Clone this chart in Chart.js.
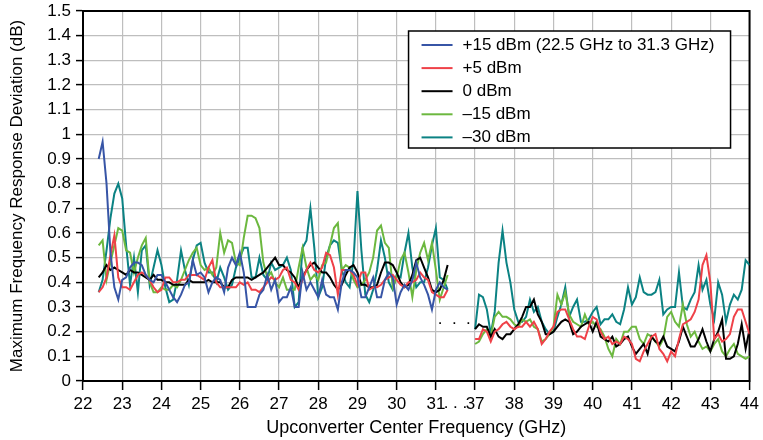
<!DOCTYPE html>
<html>
<head>
<meta charset="utf-8">
<script src="https://cdn.jsdelivr.net/npm/chart.js@4.4.1/dist/chart.umd.min.js"></script>
<style>
  html, body { margin: 0; padding: 0; background: #fff; }
  #wrap { width: 763px; height: 440px; }
</style>
</head>
<body>
<div id="wrap"><canvas id="devChart"></canvas></div>
<script>
// sweep 1: 22.4 .. 31.3 GHz, sweep 2: 37.0 .. 44.0 GHz, 0.1 GHz apart
const lowStart = 22.4;
const highStart = 37.0;
const stepGHz = 0.1;
// 31 -> 37 GHz is squeezed into one tick gap on the axis
const gapShift = 5;

const seriesLabels = ['+15 dBm (22.5 GHz to 31.3 GHz)', '+5 dBm', '0 dBm', '\u201315 dBm', '\u201330 dBm'];
const seriesColors = ['#3755a6', '#ef4148', '#000000', '#6cb83f', '#0b8283'];

// ---- 22.4 .. 31.3 GHz ----
const plus15Low = [
  0.90,0.97,0.80,0.52,0.38,0.33,0.41,0.42,0.46,0.48,
  0.48,0.47,0.43,0.41,0.40,0.43,0.43,0.40,0.37,0.34,
  0.32,0.35,0.39,0.40,0.49,0.43,0.44,0.42,0.36,0.40,
  0.42,0.41,0.36,0.46,0.50,0.47,0.52,0.44,0.30,0.30,
  0.30,0.35,0.37,0.43,0.37,0.41,0.32,0.34,0.34,0.38,
  0.30,0.30,0.44,0.37,0.40,0.37,0.34,0.41,0.35,0.34,
  0.34,0.29,0.40,0.45,0.45,0.44,0.42,0.34,0.34,0.38,
  0.42,0.34,0.34,0.41,0.44,0.42,0.31,0.36,0.39,0.37,
  0.41,0.48,0.42,0.39,0.35,0.29,0.37,0.40,0.38,0.37
];
const plus5Low = [
  0.36,0.38,0.42,0.51,0.59,0.42,0.38,0.38,0.37,0.40,
  0.43,0.44,0.43,0.41,0.38,0.36,0.37,0.42,0.42,0.40,
  0.40,0.41,0.41,0.43,0.43,0.43,0.42,0.41,0.46,0.49,
  0.40,0.38,0.38,0.38,0.38,0.38,0.40,0.39,0.40,0.37,
  0.37,0.36,0.38,0.40,0.42,0.41,0.42,0.45,0.46,0.41,
  0.40,0.37,0.41,0.45,0.48,0.45,0.44,0.46,0.52,0.51,
  0.46,0.35,0.45,0.45,0.45,0.43,0.39,0.44,0.44,0.37,
  0.38,0.38,0.39,0.41,0.42,0.43,0.41,0.39,0.38,0.40,
  0.40,0.41,0.44,0.42,0.41,0.36,0.35,0.34,0.34,0.37
];
const zeroLow = [
  0.42,0.44,0.47,0.45,0.46,0.45,0.44,0.43,0.45,0.44,
  0.44,0.43,0.42,0.41,0.43,0.41,0.41,0.40,0.40,0.39,
  0.39,0.39,0.39,0.41,0.40,0.40,0.40,0.40,0.41,0.40,
  0.40,0.40,0.38,0.38,0.41,0.42,0.42,0.42,0.42,0.41,
  0.42,0.43,0.44,0.46,0.48,0.50,0.47,0.47,0.45,0.44,
  0.42,0.38,0.42,0.45,0.47,0.48,0.46,0.44,0.44,0.42,
  0.39,0.37,0.39,0.43,0.46,0.47,0.44,0.39,0.39,0.38,
  0.38,0.39,0.44,0.48,0.48,0.47,0.44,0.40,0.38,0.39,
  0.43,0.49,0.50,0.46,0.42,0.37,0.36,0.37,0.41,0.47
];
const minus15Low = [
  0.55,0.57,0.41,0.48,0.55,0.62,0.61,0.53,0.52,0.44,
  0.50,0.55,0.58,0.40,0.36,0.36,0.38,0.37,0.37,0.39,
  0.38,0.41,0.45,0.49,0.52,0.54,0.47,0.45,0.46,0.43,
  0.46,0.60,0.52,0.57,0.56,0.48,0.47,0.58,0.67,0.67,
  0.66,0.62,0.48,0.42,0.44,0.40,0.38,0.42,0.37,0.37,
  0.37,0.46,0.54,0.46,0.41,0.43,0.41,0.47,0.48,0.55,
  0.62,0.64,0.45,0.47,0.46,0.41,0.38,0.39,0.41,0.44,
  0.50,0.61,0.63,0.56,0.54,0.38,0.42,0.49,0.52,0.44,
  0.34,0.45,0.52,0.56,0.49,0.56,0.45,0.33,0.38,0.43
];
const minus30Low = [
  0.36,0.41,0.53,0.66,0.76,0.80,0.74,0.55,0.39,0.50,
  0.36,0.53,0.55,0.39,0.46,0.53,0.47,0.38,0.32,0.33,
  0.41,0.53,0.45,0.39,0.49,0.55,0.56,0.48,0.44,0.44,
  0.40,0.46,0.42,0.37,0.39,0.46,0.50,0.54,0.54,0.42,
  0.42,0.50,0.43,0.41,0.48,0.45,0.46,0.47,0.50,0.45,
  0.30,0.32,0.54,0.57,0.70,0.54,0.34,0.38,0.50,0.55,
  0.57,0.56,0.45,0.40,0.38,0.49,0.77,0.53,0.35,0.32,
  0.37,0.45,0.57,0.50,0.40,0.37,0.43,0.42,0.52,0.60,
  0.46,0.38,0.40,0.40,0.46,0.55,0.62,0.42,0.41,0.37
];

// ---- 37.0 .. 44.0 GHz ----
const plus5High = [
  0.17,0.17,0.21,0.20,0.16,0.20,0.21,0.23,0.24,0.22,
  0.21,0.22,0.22,0.24,0.22,0.24,0.21,0.15,0.17,0.20,
  0.22,0.28,0.29,0.29,0.25,0.21,0.18,0.18,0.17,0.22,
  0.26,0.25,0.20,0.17,0.18,0.15,0.16,0.15,0.18,0.17,
  0.15,0.09,0.08,0.12,0.15,0.18,0.19,0.13,0.11,0.08,
  0.12,0.10,0.17,0.23,0.24,0.25,0.28,0.33,0.47,0.51,
  0.40,0.17,0.19,0.16,0.17,0.19,0.26,0.29,0.29,0.24,
  0.19
];
const zeroHigh = [
  0.21,0.23,0.22,0.22,0.18,0.21,0.18,0.17,0.19,0.19,
  0.21,0.23,0.26,0.30,0.30,0.33,0.27,0.24,0.19,0.19,
  0.20,0.22,0.24,0.25,0.24,0.19,0.20,0.22,0.23,0.24,
  0.20,0.24,0.18,0.17,0.16,0.18,0.14,0.15,0.17,0.18,
  0.14,0.11,0.13,0.15,0.11,0.18,0.16,0.15,0.18,0.14,
  0.13,0.12,0.16,0.22,0.18,0.14,0.14,0.17,0.21,0.16,
  0.12,0.17,0.20,0.25,0.09,0.09,0.10,0.15,0.23,0.13,
  0.21
];
const minus15High = [
  0.15,0.16,0.19,0.21,0.18,0.26,0.28,0.26,0.26,0.25,
  0.23,0.22,0.25,0.24,0.25,0.22,0.21,0.16,0.17,0.19,
  0.22,0.35,0.31,0.36,0.27,0.24,0.23,0.22,0.27,0.23,
  0.24,0.22,0.21,0.18,0.13,0.10,0.17,0.15,0.20,0.20,
  0.22,0.22,0.17,0.15,0.19,0.18,0.16,0.14,0.17,0.26,
  0.28,0.24,0.22,0.31,0.23,0.18,0.20,0.16,0.13,0.14,
  0.12,0.15,0.17,0.12,0.10,0.13,0.15,0.11,0.10,0.09,
  0.10
];
const minus30High = [
  0.21,0.35,0.34,0.29,0.19,0.28,0.48,0.61,0.48,0.40,
  0.29,0.24,0.24,0.26,0.33,0.28,0.30,0.24,0.21,0.19,
  0.20,0.26,0.31,0.38,0.26,0.30,0.33,0.24,0.24,0.25,
  0.28,0.30,0.23,0.25,0.25,0.27,0.24,0.23,0.29,0.38,
  0.31,0.34,0.42,0.36,0.35,0.35,0.36,0.41,0.27,0.29,
  0.30,0.30,0.44,0.30,0.29,0.33,0.36,0.47,0.37,0.41,
  0.31,0.25,0.40,0.35,0.24,0.31,0.35,0.33,0.37,0.49,
  0.47
];

// axis position: real GHz below the break, GHz - 5 above it
function toPoints(vals, start, shift) {
  return vals.map((v, i) => ({ x: Math.round((start + i * stepGHz) * 10) / 10 - shift, y: v }));
}
function joinBands(low, high) {
  const pts = toPoints(low, lowStart, 0);
  pts.push({ x: 31.65, y: null }); // break the line across the gap
  return pts.concat(toPoints(high, highStart, gapShift));
}

const seriesData = [
  toPoints(plus15Low, lowStart, 0),
  joinBands(plus5Low, plus5High),
  joinBands(zeroLow, zeroHigh),
  joinBands(minus15Low, minus15High),
  joinBands(minus30Low, minus30High)
];

const fontFam = "'Liberation Sans', Arial, Helvetica, sans-serif";

// black frame round the plot (top and right side too)
const frame = {
  id: 'frame',
  beforeDatasetsDraw(chart) {
    const a = chart.chartArea, ctx = chart.ctx;
    ctx.save();
    ctx.strokeStyle = '#000';
    ctx.lineWidth = 2;
    ctx.strokeRect(a.left, a.top, a.right - a.left, a.bottom - a.top);
    ctx.restore();
  }
};

// the ". . ." marks at the frequency break
const breakDots = {
  id: 'breakDots',
  afterDatasetsDraw(chart) {
    const ctx = chart.ctx, xs = chart.scales.x, ys = chart.scales.y;
    ctx.save();
    ctx.fillStyle = '#000';
    ctx.font = '17px ' + fontFam;
    ctx.textAlign = 'center';
    ctx.textBaseline = 'middle';
    ctx.fillText('.  .  .', xs.getPixelForValue(31.47), ys.getPixelForValue(0.25));
    ctx.fillText('. . .', xs.getPixelForValue(31.5), chart.chartArea.bottom + 22);
    ctx.restore();
  }
};

// legend box in the upper right of the plot
const boxLegend = {
  id: 'boxLegend',
  afterDraw(chart) {
    const ctx = chart.ctx, a = chart.chartArea;
    const left = a.right - 341, top = a.top + 20, w = 322, h = 117;
    ctx.save();
    ctx.fillStyle = '#fff';
    ctx.fillRect(left, top, w, h);
    ctx.strokeStyle = '#000';
    ctx.lineWidth = 1.5;
    ctx.strokeRect(left, top, w, h);
    ctx.font = '17px ' + fontFam;
    ctx.textBaseline = 'middle';
    seriesLabels.forEach((lab, i) => {
      const y = top + 14 + i * 23.1;
      ctx.strokeStyle = seriesColors[i];
      ctx.lineWidth = 2;
      ctx.beginPath();
      ctx.moveTo(left + 13, y);
      ctx.lineTo(left + 44, y);
      ctx.stroke();
      ctx.fillStyle = '#000';
      ctx.fillText(lab, left + 54, y);
    });
    ctx.restore();
  }
};

document.addEventListener('DOMContentLoaded', function () {
  const ctx = document.getElementById('devChart');

  new Chart(ctx, {
    type: 'line',
    data: {
      datasets: seriesData.map((pts, i) => ({
        label: seriesLabels[i],
        data: pts,
        borderColor: seriesColors[i],
        backgroundColor: seriesColors[i],
        borderWidth: 2,
        pointRadius: 0,
        tension: 0,
        spanGaps: false
      }))
    },
    options: {
      responsive: true,
      maintainAspectRatio: false,
      animation: false,
      layout: { padding: { top: 11, right: 11, left: 0, bottom: 0 } },
      plugins: {
        legend: { display: false },
        tooltip: { enabled: false }
      },
      scales: {
        x: {
          type: 'linear',
          min: 22,
          max: 39,
          afterFit(scale) { scale.height = 59; },
          grid: { color: '#bebebe', lineWidth: 1.2, tickColor: '#000', tickLength: 9, tickWidth: 1.5 },
          border: { color: '#000', width: 2 },
          ticks: {
            stepSize: 1,
            autoSkip: false,
            maxRotation: 0,
            padding: 4,
            color: '#000',
            font: { family: fontFam, size: 17 },
            callback: v => (v <= 31 ? v : v + gapShift)
          },
          title: {
            display: true,
            text: 'Upconverter Center Frequency (GHz)',
            color: '#000',
            font: { family: fontFam, size: 18 },
            padding: { top: 0, bottom: 1 }
          }
        },
        y: {
          min: 0,
          max: 1.5,
          afterFit(scale) {
            scale.width = 83;
            // let the 1.5 label poke above the plot like the original
            scale.paddingTop = 0;
            scale.paddingBottom = 0;
          },
          grid: { color: '#bebebe', lineWidth: 1.2, tickColor: '#000', tickLength: 7, tickWidth: 1.5 },
          border: { color: '#000', width: 2 },
          ticks: {
            stepSize: 0.1,
            autoSkip: false,
            padding: 5,
            color: '#000',
            font: { family: fontFam, size: 17 },
            callback: v => String(Math.round(v * 10) / 10)
          },
          title: {
            display: true,
            text: 'Maximum Frequency Response Deviation (dB)',
            color: '#000',
            font: { family: fontFam, size: 17 },
            padding: { top: 7, bottom: 0 }
          }
        }
      }
    },
    plugins: [frame, breakDots, boxLegend]
  });
});
</script>
</body>
</html>
